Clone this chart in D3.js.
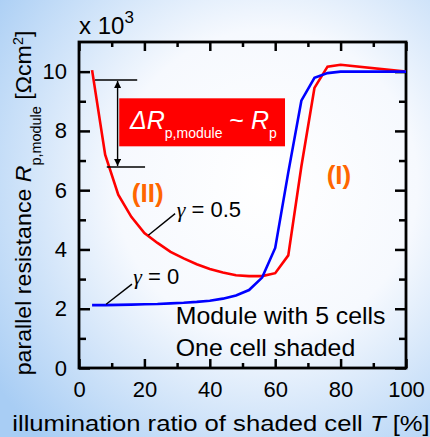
<!DOCTYPE html>
<html>
<head>
<meta charset="utf-8">
<script src="https://cdn.jsdelivr.net/npm/d3@7"></script>
<style>
  html, body { margin: 0; padding: 0; }
  body { width: 430px; height: 437px; overflow: hidden; }
  text { font-family: "Liberation Sans", Arial, sans-serif; }
</style>
</head>
<body>
<div id="chart"></div>
<script>
// illumination ratio T [%]
var illum = [4, 8, 12, 16, 20, 24, 28, 32, 36, 40, 44, 48, 52, 56, 60, 64, 68, 72, 76, 80, 100];
// R_p,module x 10^3, gamma = 0.5 (red) and gamma = 0 (blue)
var rGamma05 = [10.05, 7.2, 5.85, 5.1, 4.55, 4.22, 3.92, 3.7, 3.5, 3.34, 3.22, 3.13, 3.1, 3.1, 3.2, 3.8, 6.8, 9.45, 10.17, 10.23, 10.0];
var rGamma0 = [2.12, 2.12, 2.13, 2.14, 2.15, 2.16, 2.18, 2.2, 2.23, 2.27, 2.34, 2.45, 2.63, 3.05, 4.05, 6.6, 9.02, 9.79, 9.95, 10.0, 10.0];

var xMajor = [0, 20, 40, 60, 80, 100];
var xMinor = [10, 30, 50, 70, 90];
var yMajor = [0, 2, 4, 6, 8, 10];
var yMinor = [1, 3, 5, 7, 9];

// delta R arrow (top / bottom level)
var deltaTop = 9.72, deltaBottom = 6.78;

var width = 430, height = 437;
var svg = d3.select("#chart").append("svg").attr("width", width).attr("height", height);

var defs = svg.append("defs");
var grad = defs.append("radialGradient").attr("id", "bg")
  .attr("cx", "0.62").attr("cy", "0.42").attr("r", "0.78");
grad.append("stop").attr("offset", "0").attr("stop-color", "#ffffff");
grad.append("stop").attr("offset", "0.45").attr("stop-color", "#f6f9fe");
grad.append("stop").attr("offset", "1").attr("stop-color", "#a8cdf4");

defs.append("marker").attr("id", "ah").attr("viewBox", "0 0 10 10")
  .attr("refX", 10).attr("refY", 5).attr("markerWidth", 9).attr("markerHeight", 7)
  .attr("markerUnits", "userSpaceOnUse").attr("orient", "auto-start-reverse")
  .append("path").attr("d", "M0,0L10,5L0,10z").attr("fill", "#000");

svg.append("rect").attr("width", width).attr("height", height).attr("fill", "url(#bg)");

var x = d3.scaleLinear().domain([0, 100]).range([79, 406]);
var y = d3.scaleLinear().domain([0, 11]).range([368, 42]);

// ticks
function styleAxis(g) {
  g.select(".domain").remove();
  g.selectAll("line").attr("stroke", "#000").attr("stroke-width", 2.5);
  g.selectAll("text").attr("font-size", 22).attr("fill", "#000")
    .style("font-family", "'Liberation Sans', Arial, sans-serif");
}
svg.append("g").attr("transform", "translate(0," + y(0) + ")")
  .call(d3.axisBottom(x).tickValues(xMajor).tickSize(-9).tickPadding(13).tickFormat(d3.format("d")))
  .call(styleAxis);
svg.append("g").attr("transform", "translate(0," + y(0) + ")")
  .call(d3.axisBottom(x).tickValues(xMinor).tickSize(-5).tickFormat(""))
  .call(styleAxis);
svg.append("g").attr("transform", "translate(0," + y(11) + ")")
  .call(d3.axisTop(x).tickValues(xMajor).tickSize(-9).tickFormat(""))
  .call(styleAxis);
svg.append("g").attr("transform", "translate(0," + y(11) + ")")
  .call(d3.axisTop(x).tickValues(xMinor).tickSize(-5).tickFormat(""))
  .call(styleAxis);
svg.append("g").attr("transform", "translate(" + x(0) + ",0)")
  .call(d3.axisLeft(y).tickValues(yMajor).tickSize(-11).tickPadding(12).tickFormat(d3.format("d")))
  .call(styleAxis);
svg.append("g").attr("transform", "translate(" + x(0) + ",0)")
  .call(d3.axisLeft(y).tickValues(yMinor).tickSize(-7).tickFormat(""))
  .call(styleAxis);
svg.append("g").attr("transform", "translate(" + x(100) + ",0)")
  .call(d3.axisRight(y).tickValues(yMajor).tickSize(-11).tickFormat(""))
  .call(styleAxis);
svg.append("g").attr("transform", "translate(" + x(100) + ",0)")
  .call(d3.axisRight(y).tickValues(yMinor).tickSize(-7).tickFormat(""))
  .call(styleAxis);

// frame
svg.append("rect")
  .attr("x", x(0)).attr("y", y(11))
  .attr("width", x(100) - x(0)).attr("height", y(0) - y(11))
  .attr("fill", "none").attr("stroke", "#000").attr("stroke-width", 2.8);

// curves
var line = d3.line().x(function(d) { return x(d[0]); }).y(function(d) { return y(d[1]); });
svg.append("path").datum(d3.zip(illum, rGamma05))
  .attr("d", line).attr("fill", "none").attr("stroke", "#ff0000").attr("stroke-width", 2.6);
svg.append("path").datum(d3.zip(illum, rGamma0))
  .attr("d", line).attr("fill", "none").attr("stroke", "#0000ff").attr("stroke-width", 2.6);

// delta R annotation
svg.append("line").attr("x1", x(4.9)).attr("x2", x(17.8)).attr("y1", y(deltaTop)).attr("y2", y(deltaTop))
  .attr("stroke", "#000").attr("stroke-width", 1.4);
svg.append("line").attr("x1", x(8.5)).attr("x2", x(20.2)).attr("y1", y(deltaBottom)).attr("y2", y(deltaBottom))
  .attr("stroke", "#000").attr("stroke-width", 1.4);
svg.append("line").attr("x1", x(11.8)).attr("x2", x(11.8)).attr("y1", y(deltaTop) + 1).attr("y2", y(deltaBottom) - 1)
  .attr("stroke", "#000").attr("stroke-width", 1.4)
  .attr("marker-start", "url(#ah)").attr("marker-end", "url(#ah)");

svg.append("rect").attr("x", x(12.3)).attr("y", y(9.1))
  .attr("width", x(63) - x(12.3)).attr("height", y(7.48) - y(9.1)).attr("fill", "#ff0000");
var dt = svg.append("text").attr("x", x(15.6)).attr("y", y(8.07)).attr("fill", "#fff").attr("font-size", 25);
dt.append("tspan").attr("font-style", "italic").text("\u0394R");
dt.append("tspan").attr("font-size", 14).attr("dy", 9).text("p,module");
dt.append("tspan").attr("dy", -9).text(" ~ ");
dt.append("tspan").attr("font-style", "italic").text("R");
dt.append("tspan").attr("font-size", 14).attr("dy", 9).text("p");

// regime labels
svg.append("text").attr("x", x(21)).attr("y", y(5.6)).attr("text-anchor", "middle")
  .attr("font-size", 26).attr("font-weight", "bold").attr("fill", "#ff6600").text("(II)");
svg.append("text").attr("x", x(79.5)).attr("y", y(6.2)).attr("text-anchor", "middle")
  .attr("font-size", 26).attr("font-weight", "bold").attr("fill", "#ff6600").text("(I)");

// gamma labels
svg.append("line").attr("x1", x(21.2)).attr("y1", y(4.48)).attr("x2", x(29.4)).attr("y2", y(5.21))
  .attr("stroke", "#000").attr("stroke-width", 1.4);
var g1 = svg.append("text").attr("x", x(29.9)).attr("y", y(5.09)).attr("font-size", 22).attr("fill", "#000");
g1.append("tspan").attr("font-style", "italic").style("font-family", "'Liberation Serif', serif").text("\u03b3");
g1.append("tspan").text(" = 0.5");

svg.append("line").attr("x1", x(8.3)).attr("y1", y(2.15)).attr("x2", x(16.2)).attr("y2", y(2.83))
  .attr("stroke", "#000").attr("stroke-width", 1.4);
var g0 = svg.append("text").attr("x", x(16.6)).attr("y", y(2.83)).attr("font-size", 22).attr("fill", "#000");
g0.append("tspan").attr("font-style", "italic").style("font-family", "'Liberation Serif', serif").text("\u03b3");
g0.append("tspan").text(" = 0");

// module note
svg.append("text").attr("transform", "translate(" + x(29.6) + "," + y(1.48) + ") scale(1.08,1)")
  .attr("font-size", 23).attr("fill", "#000").text("Module with 5 cells");
svg.append("text").attr("transform", "translate(" + x(29.6) + "," + y(0.4) + ") scale(1.08,1)")
  .attr("font-size", 23).attr("fill", "#000").text("One cell shaded");

// multiplier
var mt = svg.append("text").attr("x", 79).attr("y", 34).attr("font-size", 24).attr("fill", "#000");
mt.append("tspan").text("x 10");
mt.append("tspan").attr("font-size", 17).attr("dy", -11).text("3");

// axis titles
var xt = svg.append("text").attr("transform", "translate(221,431) scale(1.14,1)")
  .attr("text-anchor", "middle").attr("font-size", 22.5).attr("fill", "#000");
xt.append("tspan").text("illumination ratio of shaded cell ");
xt.append("tspan").attr("font-style", "italic").text("T");
xt.append("tspan").text(" [%]");

var yt = svg.append("text").attr("transform", "translate(31,203) rotate(-90) scale(1.03,1)")
  .attr("text-anchor", "middle").attr("font-size", 22.5).attr("fill", "#000");
yt.append("tspan").text("parallel resistance ");
yt.append("tspan").attr("font-style", "italic").text("R");
yt.append("tspan").attr("font-size", 14).attr("dy", 10).text("p,module");
yt.append("tspan").attr("dy", -10).text(" [\u03a9cm");
yt.append("tspan").attr("font-size", 14).attr("dy", -8).text("2");
yt.append("tspan").attr("dy", 8).text("]");
</script>
</body>
</html>
